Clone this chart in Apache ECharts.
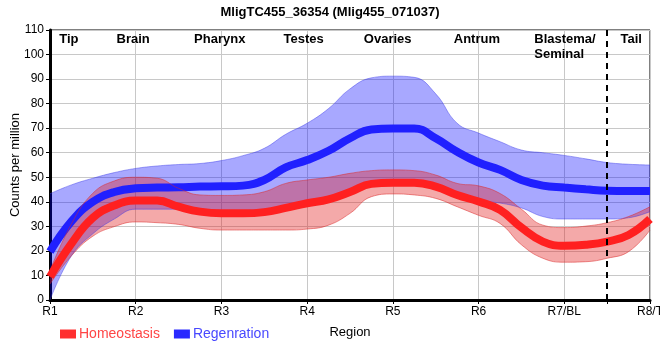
<!DOCTYPE html>
<html><head><meta charset="utf-8">
<script src="https://cdn.jsdelivr.net/npm/echarts/dist/echarts.min.js"></script>
<style>html,body{margin:0;padding:0;background:#fff}#c{width:660px;height:360px}</style>
</head><body><div id="c"></div>
<script>
// Region positions (x in region units, R1..R8)
const xPos = [1,1.25,1.5,1.75,2,2.25,2.5,2.75,3,3.25,3.5,3.75,4,4.25,4.5,4.75,5,5.25,5.5,5.75,6,6.25,6.5,6.75,7,7.25,7.5,7.75,8];
const tickLabels = ['R1','R2','R3','R4','R5','R6','R7/BL','R8/T'];

const homeoMean  = [9.5,23,33.5,38.5,40.5,40.5,38,36,35.3,35.3,35.8,37.5,39.4,41,44,47.3,47.8,47.8,46.2,42.8,40.1,36.7,29.5,23.8,22.1,22.5,23.8,26.5,33];
const homeoUpper = [12,31,43.5,48.5,50,49.6,45.5,42.8,42.6,42.8,44.1,47.5,48.9,50,51.6,52.7,53,52.7,50.9,47.5,46.5,43.4,37,30.5,29.5,30.1,31.5,34,38];
const homeoLower = [6.5,18,26,29.9,31.8,31.5,30.8,29.2,28.5,28.5,28.5,28.5,28.9,30.5,35.3,42.1,43.2,42.8,41.4,38,34.5,31.2,22.5,17,15.4,15.6,17,19.7,28.5];

const regenMean  = [19.7,32,40,44,45.5,45.8,45.9,46.2,46.3,46.6,48.9,54,57,60.8,65.9,69.5,69.9,69.9,65.9,60.4,56,53,48.9,46.6,45.8,45.1,44.5,44.4,44.4];
const regenUpper = [43.3,46.9,49.6,51.9,53.6,54.6,55.2,55.6,56.8,58.8,61.8,67.5,72,78,86,90.5,91.2,90.7,84,72,68,64.5,61.1,60,58.9,57.5,56,55.3,55];
const regenLower = [0,18,27,33,37,37,37,36.5,36.5,36.5,37,38,40,42,44.5,47,47.5,47.5,46,43,40.5,39.5,37.5,34,33,33,33,33.5,36];

const regionNames = ['Tip','Brain','Pharynx','Testes','Ovaries','Antrum','Blastema/\nSeminal','Tail'];
const regionAt    = [1.22,1.97,2.98,3.96,4.94,5.98,6.65,7.78];
const dividerAt = 7.5;

const cats = xPos.map(String);
const diff = (u,l) => u.map((v,i)=>+(v - l[i]).toFixed(2));
const isMajor = i => Number.isInteger(xPos[i]);

const FONT = '"Liberation Sans", Arial, sans-serif';
const blueBand = 'rgba(0,0,255,0.34)';
const redBand = 'rgba(225,30,30,0.38)';
const SM = 0.45;
const GRID = {left:50, right:10, top:30, bottom:60};

function bandSeries(stack, lower, upper, color, edge){
  return [
    {type:'line', stack, data: lower.slice(), smooth:SM, symbol:'none', silent:true,
     lineStyle:{width:1, color:edge}},
    {type:'line', stack, data: diff(upper, lower), smooth:SM, symbol:'none', silent:true,
     lineStyle:{width:1, color:edge}, areaStyle:{color, opacity:1}}
  ];
}

const chart = echarts.init(document.getElementById('c'), null, {renderer:'canvas'});
const option = {
  animation:false,
  textStyle:{fontFamily:FONT},
  title:{text:'MligTC455_36354 (Mlig455_071037)', left:'center', top:1,
    textStyle:{fontSize:13, fontWeight:'bold', color:'#000', fontFamily:FONT}},
  grid:Object.assign({show:true, borderColor:'#000', borderWidth:1, backgroundColor:'transparent',
    containLabel:false, outerBoundsMode:'none'}, GRID),
  legend:{left:55, top:322, itemWidth:16, itemHeight:9, itemGap:14, icon:'rect',
    data:[{name:'Homeostasis', textStyle:{color:'#ff4545'}}, {name:'Regenration', textStyle:{color:'#4848ff'}}],
    textStyle:{fontSize:14, fontFamily:FONT, padding:[0,0,0,-2]}},
  xAxis:{type:'category', data:cats, boundaryGap:false,
    name:'Region', nameLocation:'middle', nameGap:26, nameMoveOverlap:false,
    nameTextStyle:{fontSize:13, color:'#000', fontFamily:FONT},
    axisLine:{show:true, onZero:false, lineStyle:{color:'#000', width:3}},
    axisTick:{show:true, length:4, interval:(i)=>isMajor(i) || xPos[i]===dividerAt, lineStyle:{color:'#000', width:1}},
    axisLabel:{fontSize:12, color:'#000', margin:6, interval:(i)=>isMajor(i), hideOverlap:false,
      formatter: v => tickLabels[Math.round(+v)-1] || ''},
    splitLine:{show:true, interval:(i)=>isMajor(i), lineStyle:{color:'#c8c8c8', width:1}}},
  yAxis:{type:'value', min:0, max:110, interval:10,
    name:'Counts per million', nameLocation:'middle', nameGap:28, nameMoveOverlap:false,
    nameTextStyle:{fontSize:13, color:'#000', fontFamily:FONT},
    axisLine:{show:true, lineStyle:{color:'#000', width:3}},
    axisTick:{show:true, length:4, lineStyle:{color:'#000', width:1}},
    axisLabel:{fontSize:12, color:'#000', margin:6},
    splitLine:{show:true, lineStyle:{color:'#c8c8c8', width:1}}},
  series:[
    ...bandSeries('regen', regenLower, regenUpper, blueBand, 'rgba(60,60,230,0.45)'),
    {name:'Regenration', type:'line', data:regenMean, smooth:SM, symbol:'none',
     itemStyle:{color:'#2a2aff'}, lineStyle:{width:8, color:'#2020ff'}},
    ...bandSeries('homeo', homeoLower, homeoUpper, redBand, 'rgba(220,40,40,0.5)'),
    {name:'Homeostasis', type:'line', data:homeoMean, smooth:SM, symbol:'none',
     itemStyle:{color:'#ff3030'}, lineStyle:{width:8, color:'#ff2020'},
     markLine:{silent:true, symbol:'none', label:{show:false},
       lineStyle:{color:'#000', type:[6,5], width:2},
       data:[{xAxis:xPos.indexOf(dividerAt)}]}}
  ]
};
chart.setOption(option);

// pixel positions of region names from the axis scale
const p1 = chart.convertToPixel({gridIndex:0}, [0, 0]);
const p8 = chart.convertToPixel({gridIndex:0}, [xPos.length-1, 0]);
const graphics = regionNames.map((name,i)=>{
  const px = p1[0] + (regionAt[i]-1)/7*(p8[0]-p1[0]);
  const left = name.indexOf('\n') >= 0;
  return {type:'text', x:px, y:32, z:100,
    style:{text:name, fill:'#000', font:'bold 13px ' + FONT,
      align: left ? 'left' : 'center', verticalAlign:'top', lineHeight:15}};
});
chart.setOption({graphic: graphics});
</script>
</body></html>
